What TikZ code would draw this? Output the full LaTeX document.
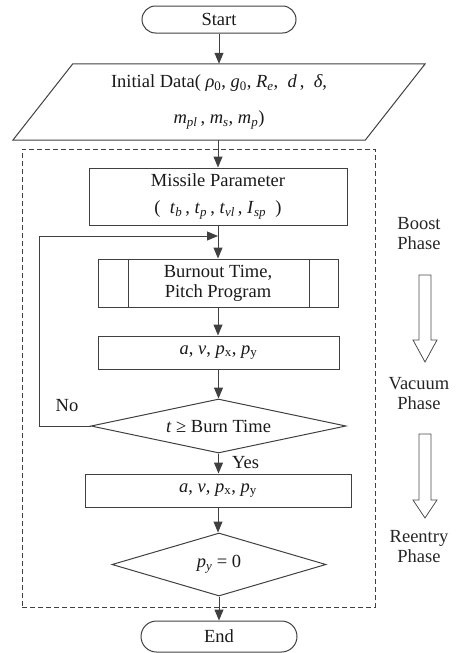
\documentclass[tikz,border=0pt]{standalone}
\usepackage{fontspec}
\setmainfont{Liberation Serif}
\usetikzlibrary{shapes.geometric,shapes.misc,arrows.meta,calc}
\newcommand\ssub[1]{\textsubscript{#1}}
\begin{document}
\begin{tikzpicture}[x=1pt,y=-1pt,
  every node/.style={font=\fontsize{18.5}{20}\selectfont, text=black!90, inner sep=0pt},
  ln/.style={draw=black!75, line width=1pt},
  arr/.style={ln, -{Triangle[length=11pt,width=9pt]}},
  box/.style={ln, rectangle, align=center},
  term/.style={ln, rounded rectangle},
  dec/.style={ln, diamond, aspect=4.5},
  lbl/.style={align=center, text=black!85},
  phasearrow/.style={draw=black!70, line width=0.8pt, fill=white}
]
\useasboundingbox (0,0) rectangle (457,653);

% dashed phase frame
\node[draw=black!75, line width=1pt, dash pattern=on 5pt off 3pt, minimum width=353, minimum height=458] (frame) at (198.5,378) {};

% terminals
\node[term, minimum width=154, minimum height=27] (start) at (219,19.5) {Start};
\node[term, minimum width=156, minimum height=31] (end) at (219,636.5) {End};

% input parallelogram
\node[minimum width=412, minimum height=76, align=center] (init) at (219,102)
  {Initial Data( \textit{ρ}\ssub{0}, \textit{g}\ssub{0}, \textit{R}\ssub{\textit{e}},\ \ \textit{d}\,,\ \ \textit{δ},\\[16pt]
   \textit{m}\ssub{\textit{pl}}\,, \textit{m}\ssub{\textit{s}}, \textit{m}\ssub{\textit{p}})};
\draw[ln] ($(init.north west)+(60,0)$) -- (init.north east) -- ($(init.south east)+(-60,0)$) -- (init.south west) -- cycle;

% process boxes
\node[box, minimum width=258, minimum height=57] (mp) at (218,196.5)
  {Missile Parameter\\[7pt] (\ \ \textit{t}\ssub{\textit{b}}\,, \textit{t}\ssub{\textit{p}}\,, \textit{t}\ssub{\textit{vl}}\,, \textit{I}\ssub{\textit{sp}}\ \ )};
\node[box, minimum width=240, minimum height=48] (bo) at (218,283) {Burnout Time,\\Pitch Program};
\draw[ln] ($(bo.north west)+(31,0)$) -- ($(bo.south west)+(31,0)$);
\draw[ln] ($(bo.north east)+(-29,0)$) -- ($(bo.south east)+(-29,0)$);
\node[box, minimum width=241, minimum height=33] (av1) at (218.5,352.5)
  {\textit{a}, \textit{v}, \textit{p}\ssub{x}, \textit{p}\ssub{y}};
\node[dec, minimum width=255, minimum height=54] (d1) at (218.5,426) {\textit{t} ≥ Burn Time};
\node[box, minimum width=266, minimum height=33] (av2) at (218,490.5)
  {\textit{a}, \textit{v}, \textit{p}\ssub{x}, \textit{p}\ssub{y}};
\node[dec, minimum width=214, minimum height=63] (d2) at (219,564.5) {\textit{p}\ssub{\textit{y}} = 0};

% connectors
\draw[arr] (start.south) -- (start.south |- init.north);
\draw[arr] (mp.north |- init.south) -- (mp.north);
\draw[arr] (mp.south) -- (mp.south |- bo.north);
\draw[arr] (bo.south) -- (bo.south |- av1.north);
\draw[arr] (av1.south) -- (av1.south |- d1.north);
\draw[arr] (d1.south) -- (d1.south |- av2.north);
\draw[arr] (av2.south) -- (av2.south |- d2.north);
\draw[arr] (d2.south) -- (d2.south |- end.north);
\coordinate (lp) at (39,236);
\draw[arr] (d1.west) -| (lp) -- (mp.south |- lp);

\node[anchor=center] (no) at (67,406) {No};
\node[anchor=west] (yes) at (232,463) {Yes};

% phase labels
\node[lbl] (boost) at (419,233.5) {Boost\\Phase};
\node[lbl] (vac) at (419,394) {Vacuum\\Phase};
\node[lbl] (reen) at (419,547) {Reentry\\Phase};
\draw[phasearrow] (419,275) -- (431,275) -- (431,340) -- (437,340) -- (425,362) -- (413,340) -- (419,340) -- cycle;
\draw[phasearrow] (419,434) -- (431,434) -- (431,500) -- (437,500) -- (425,518) -- (413,500) -- (419,500) -- cycle;
\end{tikzpicture}
\end{document}
